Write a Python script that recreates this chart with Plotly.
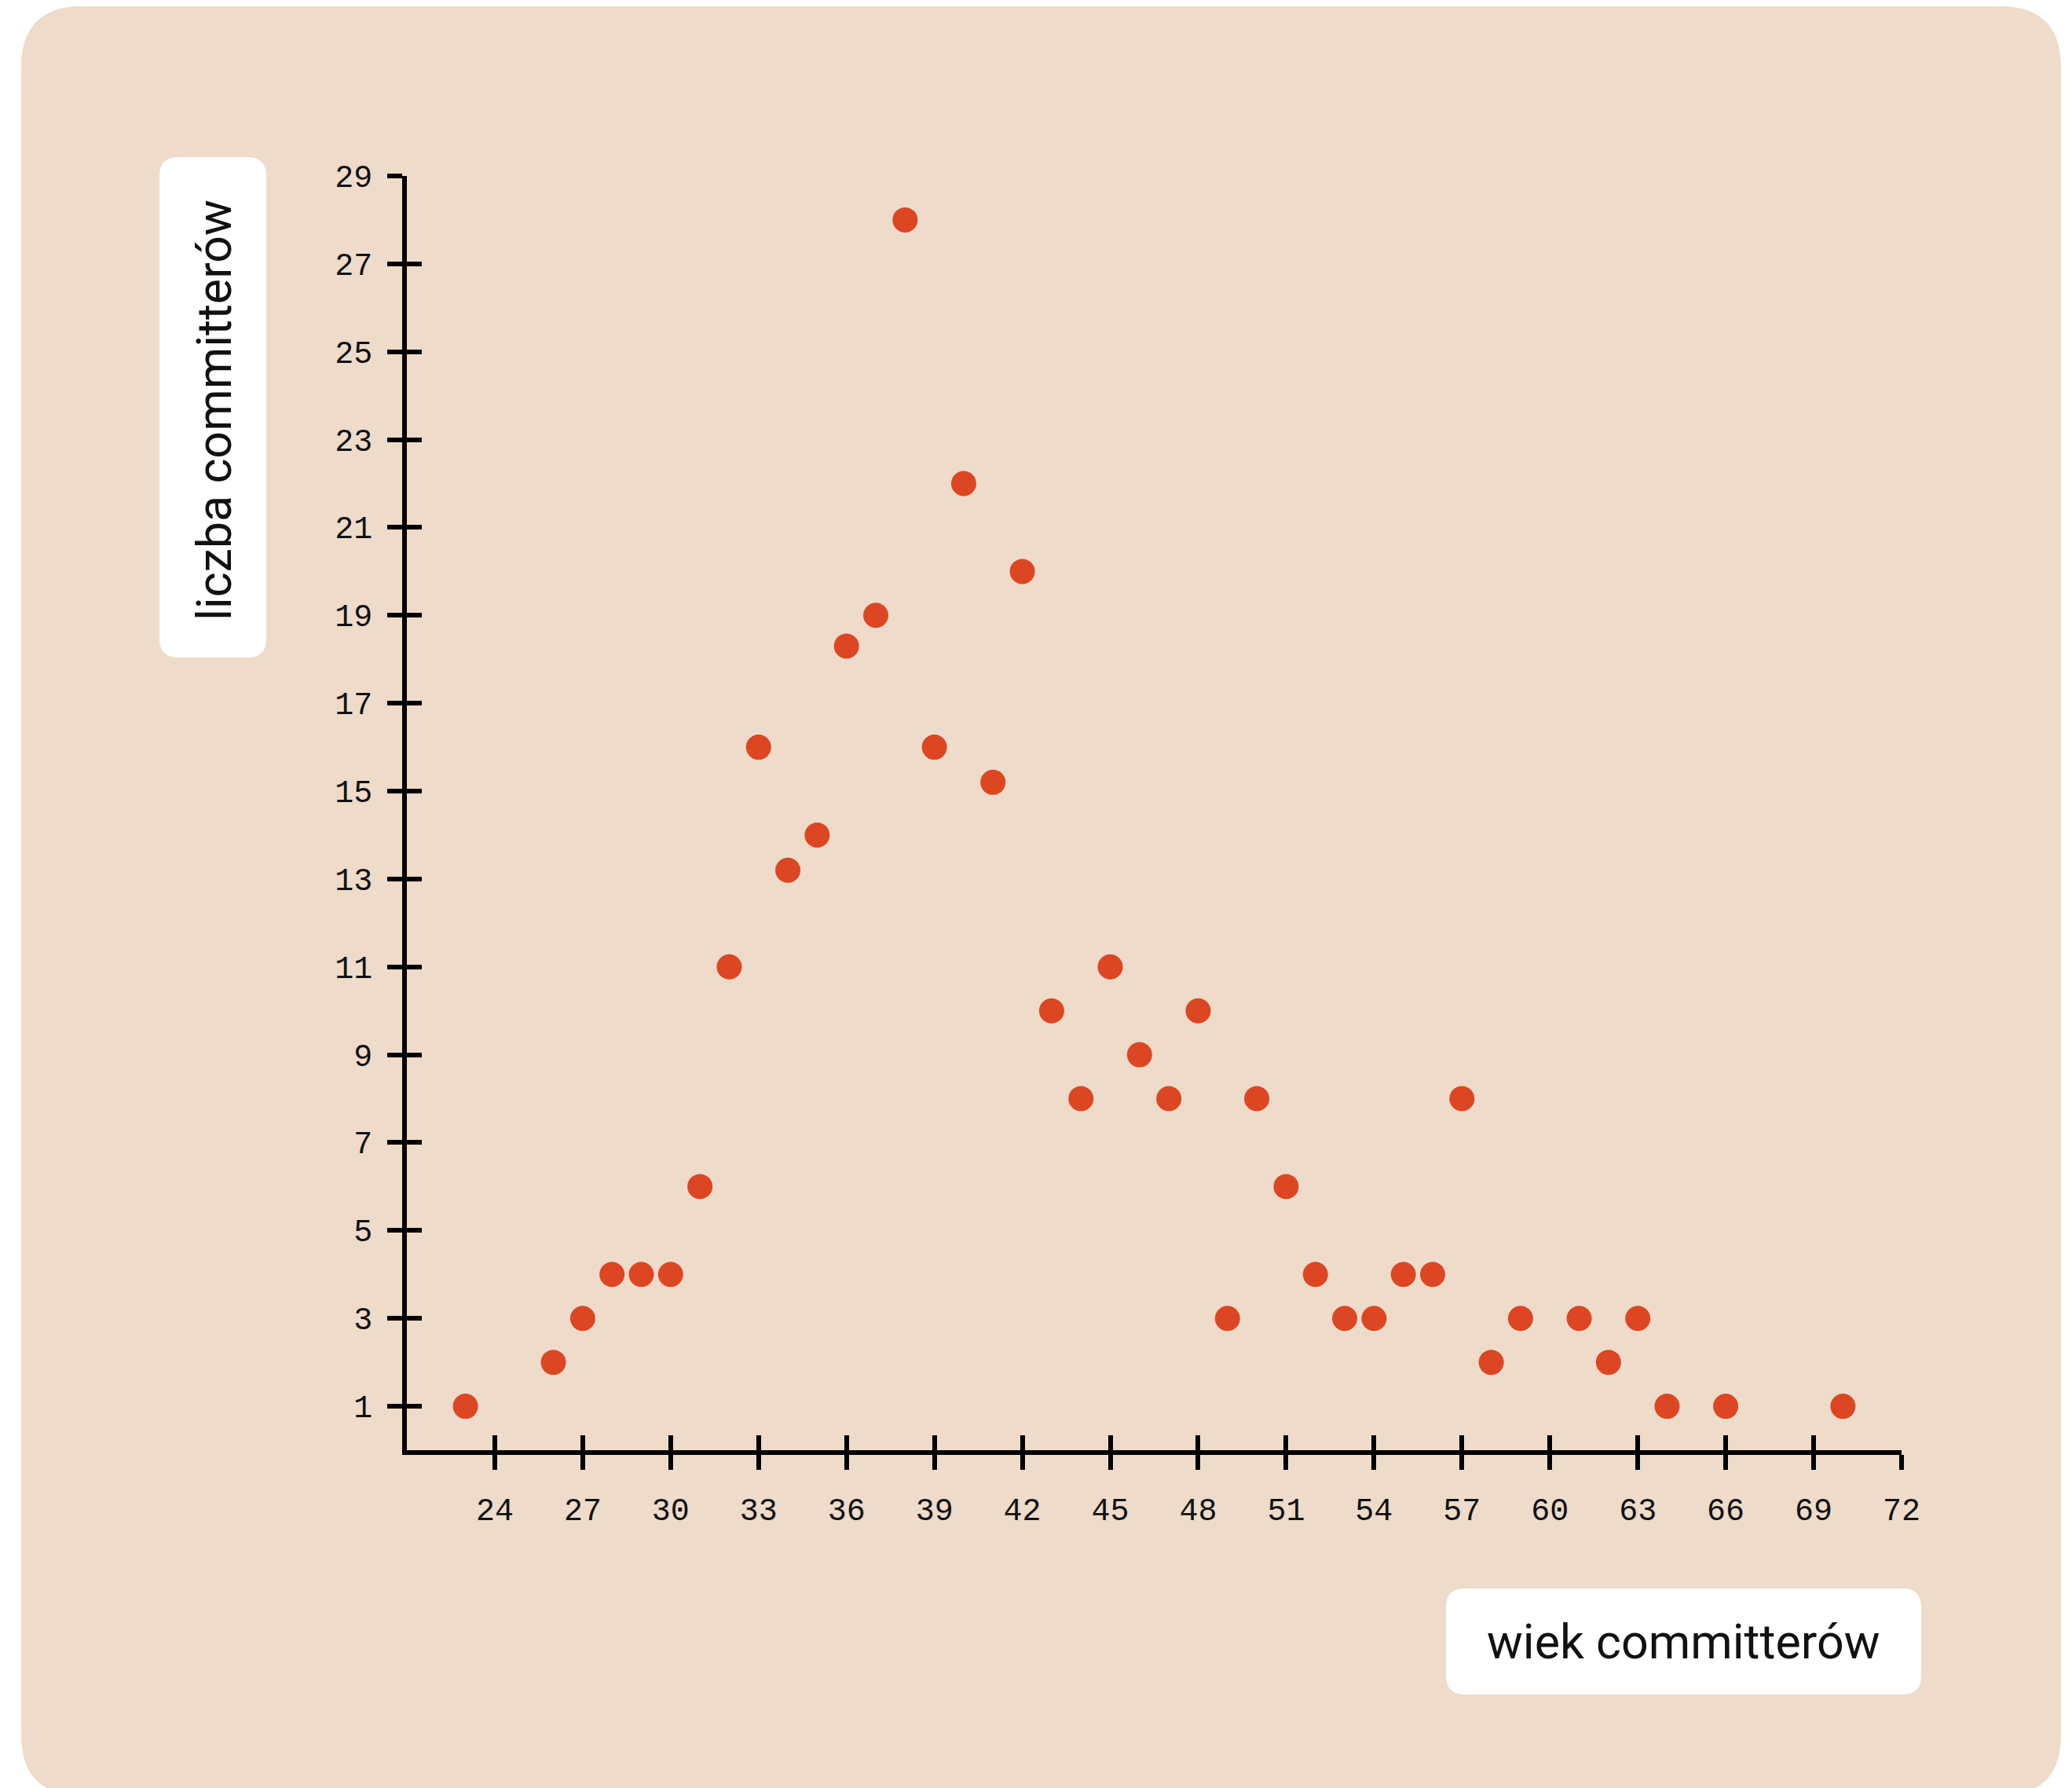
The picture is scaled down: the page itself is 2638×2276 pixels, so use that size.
import plotly.graph_objects as go

# ---- data ----
ages = [23, 26, 27, 28, 29, 30, 31, 32, 33, 34, 35, 36, 37, 38, 39, 40, 41, 42,
        43, 44, 45, 46, 47, 48, 49, 50, 51, 52, 53, 54, 55, 56, 57, 58, 59, 61,
        62, 63, 64, 66, 70]
counts = [1, 2, 3, 4, 4, 4, 6, 11, 16, 13.2, 14, 18.3, 19, 28, 16, 22, 15.2, 20,
          10, 8, 11, 9, 8, 10, 3, 8, 6, 4, 3, 3, 4, 4, 8, 2, 3, 3,
          2, 3, 1, 1, 1]
x_ticks = list(range(24, 73, 3))
y_ticks = list(range(1, 30, 2))
x_title = "wiek committerów"
y_title = "liczba committerów"

W, H = 2638, 2276
OFF = 8  # page body margin
L, R, T, B = 518 - OFF, 2421 - OFF, 224 - OFF, 1846 - OFF  # plot area in pixels
PW, PH = R - L, B - T

CARD = "#EEDBCA"
DOT = "#DD4623"
INK = "#111111"


def px2paper(px, py):
    px -= OFF
    py -= OFF
    return (px - L) / PW, (B - py) / PH


def rounded_rect(x0, y0, x1, y1, r):
    def p(x, y):
        a, b = px2paper(x, y)
        return f"{a:.5f},{b:.5f}"
    path = (f"M {p(x0 + r, y0)} L {p(x1 - r, y0)} Q {p(x1, y0)} {p(x1, y0 + r)} "
            f"L {p(x1, y1 - r)} Q {p(x1, y1)} {p(x1 - r, y1)} "
            f"L {p(x0 + r, y1)} Q {p(x0, y1)} {p(x0, y1 - r)} "
            f"L {p(x0, y0 + r)} Q {p(x0, y0)} {p(x0 + r, y0)} Z")
    return path


fig = go.Figure()
fig.add_trace(go.Scatter(x=ages, y=counts, mode="markers",
                         marker=dict(size=32, color=DOT, line=dict(width=0)),
                         showlegend=False, hoverinfo="skip"))
# empty trace to activate overlay axes (inside tick halves)
fig.add_trace(go.Scatter(x=[], y=[], xaxis="x2", yaxis="y2", showlegend=False))

tickfont = dict(family="Liberation Mono", size=40, color=INK)
LW = 5.5
fig.update_layout(
    width=W, height=H,
    margin=dict(l=L, r=W - R, t=T, b=H - B, pad=0),
    paper_bgcolor="white",
    plot_bgcolor="rgba(0,0,0,0)",
    xaxis=dict(range=[21, 72], tickvals=x_ticks, ticks="outside", ticklen=19,
               tickwidth=LW, tickcolor="black", showline=True, linewidth=LW,
               linecolor="black", showgrid=False, zeroline=False,
               tickfont=tickfont, ticklabelstandoff=16),
    yaxis=dict(range=[0, 29], tickvals=y_ticks, ticks="outside", ticklen=19,
               tickwidth=LW, tickcolor="black", showline=True, linewidth=LW,
               linecolor="black", showgrid=False, zeroline=False,
               tickfont=tickfont, ticklabelstandoff=11),
    xaxis2=dict(range=[21, 72], tickvals=x_ticks, ticks="inside", ticklen=19,
                tickwidth=LW, tickcolor="black", showticklabels=False,
                showline=False, showgrid=False, zeroline=False,
                overlaying="x", anchor="y"),
    yaxis2=dict(range=[0, 29], tickvals=y_ticks, ticks="inside", ticklen=19,
                tickwidth=LW, tickcolor="black", showticklabels=False,
                showline=False, showgrid=False, zeroline=False,
                overlaying="y", anchor="x"),
    shapes=[
        dict(type="path", xref="paper", yref="paper", layer="below",
             path=rounded_rect(27, 8, 2624, 2286, 78), fillcolor=CARD,
             line=dict(width=0)),
        dict(type="path", xref="paper", yref="paper", layer="below",
             path=rounded_rect(203, 200, 339, 837, 24), fillcolor="white",
             line=dict(width=0)),
        dict(type="path", xref="paper", yref="paper", layer="below",
             path=rounded_rect(1841, 2022, 2446, 2157, 24), fillcolor="white",
             line=dict(width=0)),
    ],
    annotations=[
        dict(text=y_title, xref="paper", yref="paper",
             x=px2paper(273, 522)[0], y=px2paper(273, 522)[1],
             textangle=-90, showarrow=False, xanchor="center", yanchor="middle",
             font=dict(family="Roboto", size=61, color=INK)),
        dict(text=x_title, xref="paper", yref="paper",
             x=px2paper(2143, 2090)[0], y=px2paper(2143, 2090)[1],
             showarrow=False, xanchor="center", yanchor="middle",
             font=dict(family="Roboto", size=61, color=INK)),
    ],
)

fig.write_html("out.html")
